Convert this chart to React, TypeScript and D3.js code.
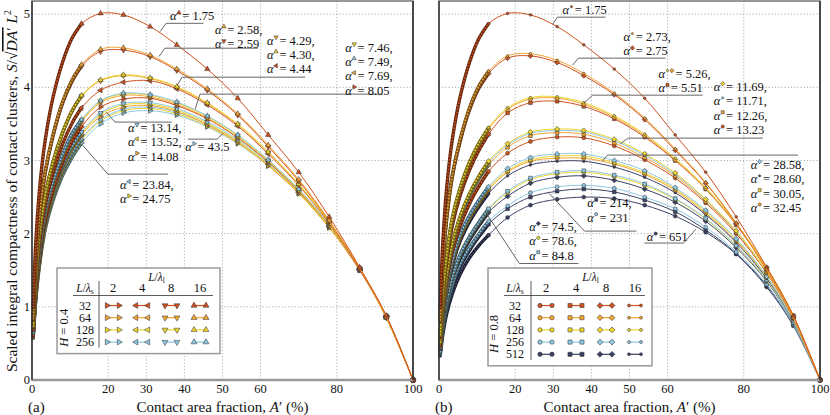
import * as d3 from "d3";

const FONT = "'Liberation Serif', 'Times New Roman', serif";

// x positions (contact area fraction, %) shared by every curve
const xGrid = [0.3, 1, 2, 3.5, 5.5, 8, 10.5, 13, 18, 24, 31, 38, 46, 54, 62, 70, 78, 86, 93, 100];
const xTicks = [0, 20, 30, 40, 50, 60, 80, 100];
const xGridLines = [20, 30, 40, 50, 60, 80];
const yTicks = [0, 1, 2, 3, 4, 5];

const lsA = [32, 64, 128, 256];
const lsB = [32, 64, 128, 256, 512];
const llCols = [2, 4, 8, 16];

// (a) H = 0.4, named aLs_Ll
const a32_16 = [0.99, 1.88, 2.62, 3.29, 3.86, 4.34, 4.67, 4.87, 5.01, 4.99, 4.83, 4.58, 4.25, 3.85, 3.35, 2.84, 2.23, 1.54, 0.88, 0];
const a64_16 = [0.83, 1.6, 2.26, 2.86, 3.35, 3.8, 4.1, 4.31, 4.52, 4.54, 4.44, 4.25, 3.98, 3.64, 3.21, 2.74, 2.18, 1.53, 0.86, 0];
const a32_8 = [0.82, 1.59, 2.25, 2.84, 3.33, 3.78, 4.08, 4.29, 4.49, 4.51, 4.42, 4.23, 3.96, 3.62, 3.19, 2.72, 2.17, 1.52, 0.86, 0];
const a128_16 = [0.73, 1.4, 2.0, 2.54, 2.98, 3.38, 3.68, 3.89, 4.1, 4.17, 4.13, 4.01, 3.79, 3.5, 3.12, 2.68, 2.16, 1.52, 0.85, 0];
const a64_8 = [0.73, 1.4, 1.99, 2.53, 2.97, 3.37, 3.67, 3.88, 4.09, 4.16, 4.12, 4.0, 3.78, 3.49, 3.11, 2.67, 2.15, 1.52, 0.85, 0];
const a32_4 = [0.68, 1.31, 1.88, 2.4, 2.83, 3.22, 3.51, 3.72, 3.96, 4.07, 4.09, 3.98, 3.76, 3.47, 3.09, 2.66, 2.14, 1.51, 0.85, 0];
const a256_16 = [0.64, 1.24, 1.78, 2.31, 2.71, 3.08, 3.37, 3.56, 3.82, 3.92, 3.9, 3.8, 3.61, 3.35, 3.01, 2.61, 2.13, 1.51, 0.86, 0];
const a128_8 = [0.64, 1.24, 1.77, 2.3, 2.7, 3.07, 3.36, 3.55, 3.81, 3.91, 3.89, 3.79, 3.6, 3.34, 3.0, 2.6, 2.12, 1.51, 0.86, 0];
const a64_4 = [0.64, 1.23, 1.76, 2.29, 2.69, 3.05, 3.34, 3.53, 3.79, 3.89, 3.87, 3.77, 3.58, 3.32, 2.99, 2.59, 2.11, 1.51, 0.86, 0];
const a32_2 = [0.6, 1.17, 1.68, 2.2, 2.6, 2.97, 3.26, 3.46, 3.73, 3.84, 3.85, 3.75, 3.57, 3.31, 2.98, 2.58, 2.11, 1.5, 0.86, 0];
const a256_8 = [0.6, 1.16, 1.67, 2.19, 2.58, 2.93, 3.2, 3.39, 3.65, 3.78, 3.79, 3.71, 3.53, 3.29, 2.97, 2.58, 2.11, 1.51, 0.87, 0];
const a128_4 = [0.6, 1.16, 1.66, 2.17, 2.56, 2.91, 3.18, 3.37, 3.63, 3.76, 3.77, 3.69, 3.51, 3.27, 2.95, 2.56, 2.09, 1.51, 0.87, 0];
const a64_2 = [0.59, 1.15, 1.65, 2.16, 2.54, 2.89, 3.16, 3.35, 3.6, 3.73, 3.75, 3.67, 3.49, 3.25, 2.93, 2.55, 2.08, 1.5, 0.87, 0];
const a256_4 = [0.58, 1.12, 1.62, 2.12, 2.5, 2.85, 3.1, 3.3, 3.56, 3.7, 3.73, 3.66, 3.49, 3.26, 2.95, 2.57, 2.1, 1.51, 0.87, 0];
const a128_2 = [0.58, 1.12, 1.61, 2.1, 2.48, 2.83, 3.08, 3.28, 3.54, 3.68, 3.71, 3.64, 3.47, 3.24, 2.93, 2.55, 2.09, 1.51, 0.87, 0];
const a256_2 = [0.57, 1.1, 1.58, 2.07, 2.45, 2.79, 3.04, 3.24, 3.5, 3.65, 3.68, 3.62, 3.46, 3.23, 2.93, 2.55, 2.09, 1.51, 0.87, 0];

// (b) H = 0.8
const b32_16 = [0.99, 1.88, 2.62, 3.29, 3.86, 4.34, 4.67, 4.87, 5.01, 4.99, 4.83, 4.58, 4.25, 3.85, 3.35, 2.84, 2.23, 1.54, 0.88, 0];
const b64_16 = [0.81, 1.57, 2.21, 2.8, 3.28, 3.72, 4.02, 4.22, 4.43, 4.46, 4.37, 4.19, 3.92, 3.58, 3.16, 2.7, 2.15, 1.51, 0.85, 0];
const b32_8 = [0.8, 1.55, 2.19, 2.78, 3.25, 3.69, 3.99, 4.19, 4.4, 4.43, 4.34, 4.16, 3.9, 3.56, 3.14, 2.69, 2.14, 1.5, 0.85, 0];
const b128_16 = [0.61, 1.18, 1.7, 2.22, 2.62, 2.98, 3.24, 3.45, 3.72, 3.86, 3.87, 3.79, 3.61, 3.36, 3.03, 2.63, 2.14, 1.54, 0.88, 0];
const b64_8 = [0.61, 1.18, 1.69, 2.2, 2.6, 2.96, 3.22, 3.43, 3.7, 3.84, 3.85, 3.77, 3.59, 3.34, 3.01, 2.62, 2.13, 1.54, 0.88, 0];
const b32_4 = [0.58, 1.12, 1.61, 2.11, 2.51, 2.87, 3.14, 3.36, 3.65, 3.79, 3.81, 3.74, 3.57, 3.32, 3.0, 2.61, 2.12, 1.53, 0.88, 0];
const b128_8 = [0.51, 1.01, 1.43, 1.87, 2.23, 2.55, 2.79, 2.99, 3.23, 3.39, 3.43, 3.41, 3.29, 3.09, 2.83, 2.47, 2.04, 1.48, 0.85, 0];
const b256_16 = [0.51, 1.0, 1.42, 1.86, 2.22, 2.53, 2.77, 2.97, 3.21, 3.37, 3.41, 3.39, 3.27, 3.07, 2.81, 2.46, 2.03, 1.48, 0.85, 0];
const b64_4 = [0.51, 0.99, 1.41, 1.84, 2.2, 2.51, 2.75, 2.94, 3.18, 3.34, 3.38, 3.36, 3.24, 3.04, 2.79, 2.44, 2.02, 1.47, 0.85, 0];
const b32_2 = [0.47, 0.93, 1.33, 1.75, 2.1, 2.41, 2.65, 2.85, 3.1, 3.26, 3.32, 3.31, 3.2, 3.01, 2.76, 2.42, 2.0, 1.46, 0.84, 0];
const b256_8 = [0.45, 0.87, 1.26, 1.64, 1.98, 2.25, 2.46, 2.64, 2.89, 3.04, 3.09, 3.09, 3.0, 2.86, 2.63, 2.32, 1.93, 1.42, 0.82, 0];
const b128_4 = [0.44, 0.86, 1.24, 1.62, 1.96, 2.23, 2.44, 2.62, 2.86, 3.01, 3.06, 3.06, 2.97, 2.83, 2.61, 2.3, 1.92, 1.41, 0.82, 0];
const b64_2 = [0.44, 0.86, 1.23, 1.61, 1.94, 2.21, 2.42, 2.6, 2.84, 2.99, 3.03, 3.03, 2.95, 2.81, 2.59, 2.28, 1.9, 1.41, 0.82, 0];
const b512_16 = [0.42, 0.82, 1.19, 1.56, 1.89, 2.16, 2.37, 2.55, 2.79, 2.94, 2.99, 2.99, 2.91, 2.77, 2.56, 2.26, 1.88, 1.39, 0.81, 0];
const b256_4 = [0.38, 0.74, 1.07, 1.41, 1.71, 1.96, 2.16, 2.34, 2.58, 2.76, 2.84, 2.86, 2.8, 2.68, 2.48, 2.21, 1.84, 1.37, 0.79, 0];
const b128_2 = [0.38, 0.73, 1.06, 1.4, 1.7, 1.95, 2.15, 2.33, 2.56, 2.74, 2.82, 2.84, 2.78, 2.66, 2.47, 2.2, 1.83, 1.36, 0.79, 0];
const b512_8 = [0.37, 0.72, 1.04, 1.38, 1.66, 1.91, 2.11, 2.29, 2.51, 2.69, 2.77, 2.79, 2.73, 2.61, 2.43, 2.17, 1.81, 1.35, 0.78, 0];
const b256_2 = [0.35, 0.69, 0.99, 1.3, 1.58, 1.81, 2.0, 2.17, 2.38, 2.56, 2.64, 2.66, 2.62, 2.5, 2.34, 2.09, 1.75, 1.31, 0.76, 0];
const b512_4 = [0.35, 0.67, 0.97, 1.28, 1.54, 1.77, 1.96, 2.13, 2.34, 2.5, 2.58, 2.61, 2.57, 2.46, 2.3, 2.05, 1.73, 1.29, 0.76, 0];
const b512_2 = [0.33, 0.62, 0.9, 1.18, 1.44, 1.67, 1.84, 1.98, 2.22, 2.39, 2.47, 2.5, 2.48, 2.39, 2.24, 2.02, 1.72, 1.27, 0.74, 0];

// drawing order: bottom curves first
const seriesA: [number, number, number[]][] = [
  [256, 2, a256_2], [128, 2, a128_2], [256, 4, a256_4], [64, 2, a64_2], [128, 4, a128_4], [256, 8, a256_8],
  [32, 2, a32_2], [64, 4, a64_4], [128, 8, a128_8], [256, 16, a256_16],
  [32, 4, a32_4], [64, 8, a64_8], [128, 16, a128_16], [32, 8, a32_8], [64, 16, a64_16], [32, 16, a32_16],
];
const seriesB: [number, number, number[]][] = [
  [512, 2, b512_2], [512, 4, b512_4], [256, 2, b256_2], [512, 8, b512_8], [128, 2, b128_2], [256, 4, b256_4],
  [512, 16, b512_16], [64, 2, b64_2], [128, 4, b128_4], [256, 8, b256_8],
  [32, 2, b32_2], [64, 4, b64_4], [256, 16, b256_16], [128, 8, b128_8],
  [32, 4, b32_4], [64, 8, b64_8], [128, 16, b128_16], [32, 8, b32_8], [64, 16, b64_16], [32, 16, b32_16],
];

const colors: Record<number, string> = {
  32: "#cf521f",
  64: "#f3a535",
  128: "#eed42e",
  256: "#8dc7e4",
  512: "#3c4264",
};

type Row = { k: [number, number][]; t: string };
type Note = { at: [number, number]; rows: Row[]; line: [number, number][] };

const notesA: Note[] = [
  { at: [36.2, 4.918], rows: [{ k: [[32, 16]], t: "= 1.75" }], line: [[33.6, 4.76], [35.2, 4.875], [45, 4.875]] },
  { at: [48.0, 4.727], rows: [{ k: [[64, 16]], t: "= 2.58," }, { k: [[32, 8]], t: "= 2.59" }], line: [[33.3, 4.42], [34.9, 4.535], [59.3, 4.535]] },
  { at: [61.7, 4.583], rows: [{ k: [[64, 8]], t: "= 4.29," }, { k: [[128, 16]], t: "= 4.30," }, { k: [[32, 4]], t: "= 4.44" }], line: [[38.1, 4.03], [39.4, 4.139], [71.7, 4.139]] },
  { at: [82.2, 4.488], rows: [{ k: [[128, 8]], t: "= 7.46," }, { k: [[256, 16]], t: "= 7.49," }, { k: [[64, 4]], t: "= 7.69," }, { k: [[32, 2]], t: "= 8.05" }], line: [[42.8, 3.7], [44.1, 3.907], [92.1, 3.907]] },
  { at: [25.2, 3.388], rows: [{ k: [[256, 8]], t: "= 13.14," }, { k: [[128, 4]], t: "= 13.52," }, { k: [[64, 2]], t: "= 14.08" }], line: [[19.5, 3.66], [21.8, 3.525], [36.7, 3.525]] },
  { at: [23.1, 2.609], rows: [{ k: [[256, 4]], t: "= 23.84," }, { k: [[128, 2]], t: "= 24.75" }], line: [[13.1, 3.22], [19.9, 2.814], [35.7, 2.814]] },
  { at: [40.2, 3.128], rows: [{ k: [[256, 2]], t: "= 43.5" }], line: [[50.1, 3.37], [48.6, 3.292], [40.9, 3.292]] },
];
const notesB: Note[] = [
  { at: [32.4, 5.0], rows: [{ k: [[32, 16]], t: "= 1.75" }], line: [[29.8, 4.86], [31.1, 4.959], [43.7, 4.959]] },
  { at: [48.4, 4.631], rows: [{ k: [[64, 16]], t: "= 2.73," }, { k: [[32, 8]], t: "= 2.75" }], line: [[35, 4.3], [36.6, 4.399], [59.5, 4.399]] },
  { at: [57.6, 4.126], rows: [{ k: [[128, 16], [64, 8]], t: "= 5.26," }, { k: [[32, 4]], t: "= 5.51" }], line: [[38.2, 3.79], [40.3, 3.893], [69.2, 3.893]] },
  { at: [72.1, 3.948], rows: [{ k: [[128, 8]], t: "= 11.69," }, { k: [[256, 16]], t: "= 11.71," }, { k: [[64, 4]], t: "= 12.26," }, { k: [[32, 2]], t: "= 13.23" }], line: [[47.6, 3.23], [49.7, 3.306], [85, 3.306]] },
  { at: [81.8, 2.883], rows: [{ k: [[256, 8]], t: "= 28.58," }, { k: [[512, 16]], t: "= 28.60," }, { k: [[128, 4]], t: "= 30.05," }, { k: [[64, 2]], t: "= 32.45" }], line: [[42.9, 2.99], [44.2, 3.074], [94.2, 3.074]] },
  { at: [23.7, 2.036], rows: [{ k: [[512, 8]], t: "= 74.5," }, { k: [[128, 2]], t: "= 78.6," }, { k: [[256, 4]], t: "= 84.8" }], line: [[12.4, 2.28], [21.1, 1.592], [36.6, 1.592]] },
  { at: [38.9, 2.36], rows: [{ k: [[512, 4]], t: "= 214," }, { k: [[256, 2]], t: "= 231" }], line: [[28.9, 2.55], [38.2, 2.035], [51.8, 2.035]] },
  { at: [54.5, 1.899], rows: [{ k: [[512, 2]], t: "= 651" }], line: [[53.9, 1.872], [64.2, 1.872], [67.4, 2.06]] },
];

const PLOT_TOP = 1;
const PLOT_BOTTOM = 380;
const PLOT_W = 381;
const Y_MAX = 5.18;

function Marker({ panel, ll, color, x, y, scale = 1 }: any) {
  let type: any = d3.symbolCircle;
  let size = 15;
  let rot = 0;
  if (panel === "a") {
    type = d3.symbolTriangle;
    size = 15;
    rot = ({ 2: 90, 4: -90, 8: 180, 16: 0 } as any)[ll];
  } else if (ll === 4) {
    type = d3.symbolSquare;
    size = 17;
  } else if (ll === 8) {
    type = d3.symbolSquare;
    size = 17;
    rot = 45;
  } else if (ll === 16) {
    size = 7;
  }
  const d = d3.symbol().type(type).size(size * scale)() || "";
  return (
    <path d={d} transform={`translate(${x},${y}) rotate(${rot})`} fill={color} stroke="#2a2a2a" strokeWidth={0.5} />
  );
}

function Legend({ panel, ls, bx, by }: any) {
  const colX = panel === "a" ? [56, 85, 114, 143] : [58, 88, 118, 147];
  const sepX = panel === "a" ? 42 : 43;
  const labX = panel === "a" ? 28 : 27;
  const h = 41.5 + 12.2 * (ls.length - 1) + 7.5;
  const w = panel === "a" ? 163 : 164;
  return (
    <g transform={`translate(${bx},${by})`} fontFamily={FONT} fontSize={12} fill="#111">
      <rect x={0} y={0} width={w} height={h} fill="#fff" stroke="#9a9a9a" strokeWidth={1.5} />
      <text x={(colX[0] + colX[3]) / 2} y={13} textAnchor="middle" fontSize={11.5}>
        <tspan fontStyle="italic">L</tspan>/<tspan fontStyle="italic">λ</tspan>
        <tspan fontSize={7.5} dy={2}>l</tspan>
      </text>
      <text x={labX} y={24} textAnchor="middle" fontSize={11.5}>
        <tspan fontStyle="italic">L</tspan>/<tspan fontStyle="italic">λ</tspan>
        <tspan fontSize={7.5} dy={2}>s</tspan>
      </text>
      {llCols.map((c, i) => (
        <text key={c} x={colX[i]} y={24} textAnchor="middle" fontSize={12.5}>{c}</text>
      ))}
      <line x1={16} x2={w - 7} y1={27.5} y2={27.5} stroke="#333" strokeWidth={0.8} />
      <line x1={sepX} x2={sepX} y1={13} y2={h - 6} stroke="#333" strokeWidth={0.8} />
      <text transform={`translate(${panel === "a" ? 11 : 10},${(30 + h) / 2 + 2}) rotate(-90)`} textAnchor="middle" fontSize={12.5}>
        <tspan fontStyle="italic">H</tspan> = {panel === "a" ? "0.4" : "0.8"}
      </text>
      {ls.map((s: number, r: number) => {
        const yy = 37.5 + 12.2 * r;
        return (
          <g key={s}>
            <text x={labX} y={yy + 4} textAnchor="middle">{s}</text>
            {llCols.map((c, i) => (
              <g key={c}>
                <line x1={colX[i] - 6} x2={colX[i] + 6} y1={yy} y2={yy} stroke={colors[s]} strokeWidth={1.2} />
                <Marker panel={panel} ll={c} color={colors[s]} x={colX[i] - 6} y={yy} />
                <Marker panel={panel} ll={c} color={colors[s]} x={colX[i] + 6} y={yy} />
              </g>
            ))}
          </g>
        );
      })}
    </g>
  );
}

function Panel({ panel, x0, series, notes, ls, legendX, tag, showY }: any) {
  const x = d3.scaleLinear().domain([0, 100]).range([x0, x0 + PLOT_W]);
  const y = d3.scaleLinear().domain([0, Y_MAX]).range([PLOT_BOTTOM, PLOT_TOP]);
  const line = d3
    .line<[number, number]>()
    .x((d) => x(d[0]))
    .y((d) => y(d[1]))
    .curve(d3.curveCatmullRom.alpha(0.5));
  const plain = d3.line<[number, number]>().x((d) => x(d[0])).y((d) => y(d[1]));

  return (
    <g fontFamily={FONT}>
      {/* grid */}
      {xGridLines.map((v) => (
        <line key={"gx" + v} x1={x(v)} x2={x(v)} y1={PLOT_TOP} y2={PLOT_BOTTOM} stroke="#9a9a9a" strokeWidth={0.8} strokeDasharray="1.2,2" />
      ))}
      {yTicks.slice(1).map((v) => (
        <line key={"gy" + v} x1={x(0)} x2={x(100)} y1={y(v)} y2={y(v)} stroke="#9a9a9a" strokeWidth={0.8} strokeDasharray="1.2,2" />
      ))}

      {/* curves */}
      {series.map(([s, l, vals]: [number, number, number[]]) => {
        const pts: [number, number][] = xGrid.map((xv, i) => [xv, vals[i]]);
        const dense = pts.filter((p) => p[0] <= 13);
        const c = colors[s];
        const dark = d3.color(c)!.darker(2).formatHex();
        return (
          <g key={s + "-" + l}>
            <path d={line(pts) || ""} fill="none" stroke={c} strokeWidth={1} />
            <path d={line(dense) || ""} fill="none" stroke={dark} strokeWidth={3.4} strokeLinecap="round" />
            <path d={line(dense) || ""} fill="none" stroke={c} strokeWidth={1.6} strokeDasharray="1.6,1.6" />
            {pts
              .filter((p) => p[0] >= 13)
              .map((p, i) => (
                <Marker key={i} panel={panel} ll={l} color={c} x={x(p[0])} y={y(p[1])} scale={0.8} />
              ))}
          </g>
        );
      })}

      {/* frame */}
      <rect x={x(0)} y={PLOT_TOP} width={PLOT_W} height={PLOT_BOTTOM - PLOT_TOP} fill="none" stroke="#555" strokeWidth={1.2} />
      <line x1={x(0)} x2={x(100)} y1={PLOT_BOTTOM} y2={PLOT_BOTTOM} stroke="#999" strokeWidth={2.4} />
      <line x1={x(0)} x2={x(0)} y1={PLOT_TOP} y2={PLOT_BOTTOM} stroke="#222" strokeWidth={1.2} />
      <line x1={x(100)} x2={x(100)} y1={PLOT_TOP} y2={PLOT_BOTTOM} stroke="#333" strokeWidth={1.6} />

      {/* notes */}
      {notes.map((n: Note, i: number) => (
        <g key={"n" + i} fontSize={12.5} fill="#111">
          <path d={plain(n.line) || ""} fill="none" stroke="#555" strokeWidth={0.9} />
          {n.rows.map((r, j) => {
            const tx = x(n.at[0]);
            const ty = y(n.at[1]) + j * 14.3;
            return (
              <g key={j}>
                <text x={tx} y={ty} fontStyle="italic">α</text>
                {r.k.map(([s, l], m) => (
                  <Marker key={m} panel={panel} ll={l} color={colors[s]} x={tx + 9 + m * 4.5} y={ty - 7.5} scale={0.55} />
                ))}
                <text x={tx + 7.5 + r.k.length * 4.8} y={ty}>{r.t}</text>
              </g>
            );
          })}
        </g>
      ))}

      <Legend panel={panel} ls={ls} bx={legendX} by={268} />

      {/* axes labels */}
      {xTicks.map((v) => (
        <text key={"tx" + v} x={x(v)} y={393} textAnchor="middle" fontSize={12.5} fill="#111">{v}</text>
      ))}
      {showY &&
        yTicks.map((v) => (
          <text key={"ty" + v} x={30} y={y(v) + 4} textAnchor="end" fontSize={12.5} fill="#111">{v}</text>
        ))}
      <text x={(x(0) + x(100)) / 2} y={412} textAnchor="middle" fontSize={15} fill="#111">
        Contact area fraction, <tspan fontStyle="italic">A</tspan>′ (%)
      </text>
      <text x={x0 - 4} y={412} fontSize={15} fill="#111">{tag}</text>
    </g>
  );
}

export default function App() {
  return (
    <svg width={830} height={415} style={{ position: "absolute", left: 0, top: 0, background: "#fff" }}>
      <rect width={830} height={415} fill="#fff" />
      <text transform="translate(17,191) rotate(-90)" textAnchor="middle" fontFamily={FONT} fontSize={15.5} fill="#111">
        Scaled integral compactness of contact clusters, <tspan fontStyle="italic">S</tspan>/√
        <tspan style={{ textDecoration: "overline" }}>
          <tspan fontStyle="italic">DA</tspan>′
        </tspan>{" "}
        <tspan fontStyle="italic">L</tspan>
        <tspan fontSize={10} dy={-6}>2</tspan>
      </text>
      <Panel panel="a" x0={32} series={seriesA} notes={notesA} ls={lsA} legendX={57} tag="(a)" showY={true} />
      <Panel panel="b" x0={439} series={seriesB} notes={notesB} ls={lsB} legendX={488} tag="(b)" showY={false} />
    </svg>
  );
}
